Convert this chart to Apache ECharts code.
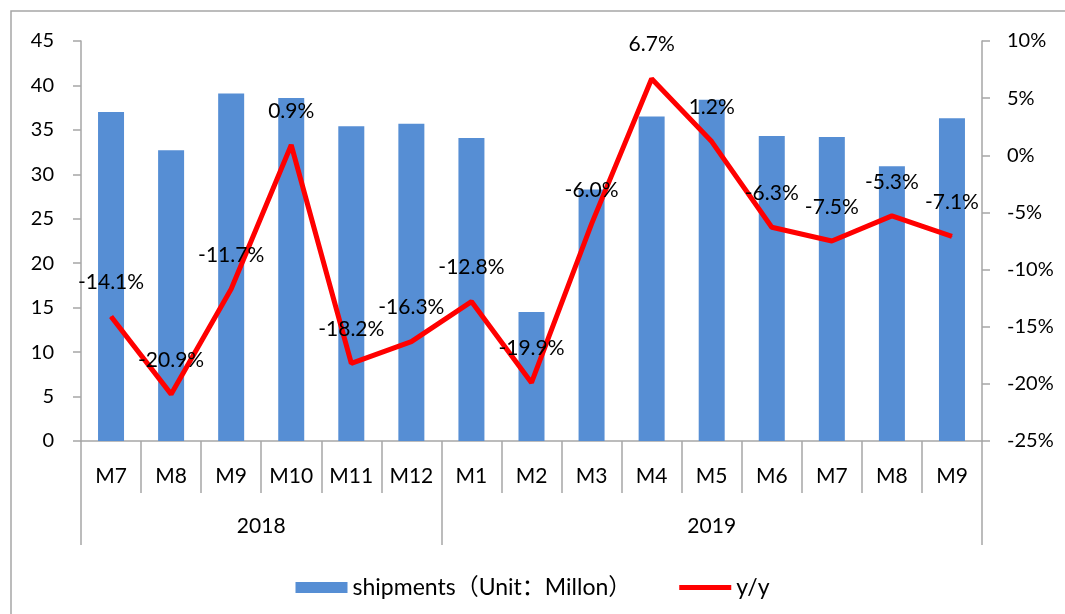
<!DOCTYPE html>
<html>
<head>
<meta charset="utf-8">
<script src="https://cdn.jsdelivr.net/npm/echarts@6/dist/echarts.min.js"></script>
<style>
html,body{margin:0;padding:0;background:#fff;}
#main{width:1065px;height:614px;}
</style>
</head>
<body>
<div id="main"></div>
<script>
var months=['M7','M8','M9','M10','M11','M12','M1','M2','M3','M4','M5','M6','M7','M8','M9'];
var years=['2018','2019'];
var shipments=[37.0,32.7,39.1,38.6,35.4,35.7,34.1,14.5,28.3,36.5,38.4,34.3,34.2,30.9,36.3];
var yoy=[-14.1,-20.9,-11.7,0.9,-18.2,-16.3,-12.8,-19.9,-6.0,6.7,1.2,-6.3,-7.5,-5.3,-7.1];
var barName='shipments（Unit：Millon）';
var lineName='y/y';

var font='Lato, "Noto Sans CJK SC", sans-serif';
var gray='#a6a6a6';
// 图例里的粗红线（上下留空，保持 5px 粗）
var lineIcon='path://M0,0L0.01,0L0,0.01Z M0,3L52,3L52,8L0,8Z M52,11L51.99,11L52,10.99Z';

var chart=echarts.init(document.getElementById('main'));
var option={
	backgroundColor:'#fff',
	textStyle:{fontFamily:font,color:'#000'},
	graphic:[{
		type:'rect',
		shape:{x:11,y:11,width:1200,height:800},
		style:{fill:'none',stroke:gray,lineWidth:1.5},
		silent:true
	}],
	grid:{left:81,right:83,top:41,bottom:173},
	legend:{
		top:571,
		left:'center',
		itemWidth:52,
		itemHeight:11,
		itemGap:48,
		textStyle:{fontSize:23,color:'#000',fontFamily:font},
		data:[{name:barName,icon:'rect'},{name:lineName,icon:lineIcon,itemStyle:{color:'#ff0000'}}]
	},
	xAxis:[{
		type:'category',
		data:months,
		axisLine:{onZero:false,lineStyle:{color:gray,width:1.5}},
		axisTick:{show:true,length:52,interval:0,lineStyle:{color:gray,width:1.5}},
		axisLabel:{interval:0,margin:25,fontSize:21,color:'#000'}
	},{
		// 年份一级
		type:'value',
		position:'bottom',
		min:0,max:15,
		splitLine:{show:false},
		axisLine:{show:false,onZero:false},
		axisTick:{show:true,customValues:[0,6,15],length:104,lineStyle:{color:gray,width:1.5}},
		axisLabel:{
			customValues:[3,10.5],
			margin:75,
			fontSize:21,
			color:'#000',
			formatter:function(v){return v<6?years[0]:years[1];}
		}
	}],
	yAxis:[{
		type:'value',
		min:0,max:45,interval:5,
		splitLine:{show:false},
		axisLine:{show:true,onZero:false,lineStyle:{color:gray,width:1.5}},
		axisTick:{show:true,length:8,lineStyle:{color:gray,width:1.5}},
		axisLabel:{fontSize:20,color:'#000',margin:27}
	},{
		type:'value',
		min:-25,max:10,interval:5,
		splitLine:{show:false},
		axisLine:{show:true,onZero:false,lineStyle:{color:gray,width:1.5}},
		axisTick:{show:true,length:8,lineStyle:{color:gray,width:1.5}},
		axisLabel:{fontSize:20,color:'#000',margin:25,formatter:'{value}%'}
	}],
	series:[{
		name:barName,
		type:'bar',
		xAxisIndex:0,yAxisIndex:0,
		barWidth:26,
		itemStyle:{color:'#568ed4'},
		data:shipments
	},{
		name:lineName,
		type:'line',
		xAxisIndex:0,yAxisIndex:1,
		symbol:'circle',
		symbolSize:1,
		showSymbol:true,
		lineStyle:{color:'#ff0000',width:5},
		itemStyle:{color:'#ff0000'},
		label:{
			show:true,
			position:'top',
			distance:23,
			fontSize:21,
			color:'#000',
			formatter:function(p){return p.value.toFixed(1)+'%';}
		},
		data:yoy
	}]
};
chart.setOption(option);
window.onresize=chart.resize;
</script>
</body>
</html>
